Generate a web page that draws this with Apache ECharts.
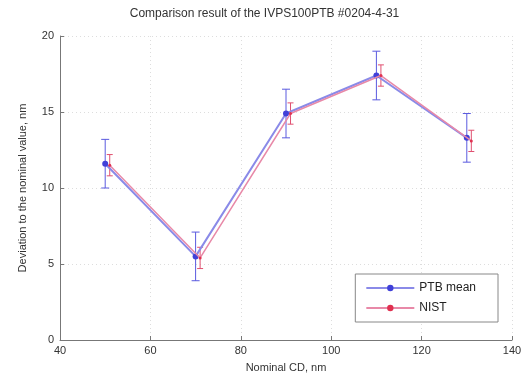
<!DOCTYPE html>
<html><head><meta charset="utf-8">
<script src="https://cdn.jsdelivr.net/npm/echarts@6/dist/echarts.min.js"></script>
<style>html,body{margin:0;padding:0;background:#fff}#c{width:529px;height:381px}</style>
</head><body><div id="c"></div>
<script>
var ptbX = [50, 70, 90, 110, 130];
var ptbY = [11.6, 5.5, 14.9, 17.4, 13.3];
var ptbErr = [1.6, 1.6, 1.6, 1.6, 1.6];
var nistX = [51, 71, 91, 111, 131];
var nistY = [11.5, 5.4, 14.9, 17.4, 13.1];
var nistErr = [0.7, 0.7, 0.7, 0.7, 0.7];
var xTicks = [40, 60, 80, 100, 120, 140];
var yTicks = [0, 5, 10, 15, 20];

function pts(xs, ys){ return xs.map(function(x,i){return [x, ys[i]];}); }
function bars(xs, ys, es){ return xs.map(function(x,i){return [x, ys[i]-es[i], ys[i]+es[i]];}); }
function errRender(color, cap){
  return function(params, api){
    var x = api.value(0);
    var lo = api.coord([x, api.value(1)]);
    var hi = api.coord([x, api.value(2)]);
    var st = {stroke: color, lineWidth: 1};
    return {type:'group', children:[
      {type:'line', shape:{x1:lo[0],y1:lo[1],x2:hi[0],y2:hi[1]}, style:st},
      {type:'line', shape:{x1:lo[0]-cap,y1:lo[1],x2:lo[0]+cap,y2:lo[1]}, style:st},
      {type:'line', shape:{x1:hi[0]-cap,y1:hi[1],x2:hi[0]+cap,y2:hi[1]}, style:st}
    ]};
  };
}
var font = 'Liberation Sans, Arial, sans-serif';
var chart = echarts.init(document.getElementById('c'));
chart.setOption({
  animation:false,
  backgroundColor:'#fff',
  title:{text:'Comparison result of the IVPS100PTB #0204-4-31', left:'center', top:3,
    textStyle:{fontFamily:font, fontSize:12, fontWeight:'normal', color:'#333'}},
  grid:{left:60, right:17, top:36, bottom:41},
  legend:{data:['PTB mean','NIST'], orient:'vertical', right:31, bottom:59,
    backgroundColor:'#fff', borderColor:'#888', borderWidth:1, padding:[8,22,8,10],
    itemWidth:48, itemHeight:8, itemGap:8,
    textStyle:{fontFamily:font, fontSize:12, color:'#222'}},
  xAxis:{type:'value', min:40, max:140, interval:20, name:'Nominal CD, nm',
    nameLocation:'middle', nameGap:22,
    nameTextStyle:{fontFamily:font, fontSize:11, color:'#333'},
    axisLine:{lineStyle:{color:'#777'}},
    axisTick:{inside:true, length:4, lineStyle:{color:'#777'}},
    axisLabel:{fontFamily:font, fontSize:11, color:'#333', margin:5,
      formatter:function(v){return xTicks.indexOf(v)>=0 ? String(v) : '';}},
    splitLine:{show:true, lineStyle:{color:'#ddd', type:[1,3]}}},
  yAxis:{type:'value', min:0, max:20, interval:5, name:'Deviation to the nominal value, nm',
    nameLocation:'middle', nameGap:32,
    nameTextStyle:{fontFamily:font, fontSize:11, color:'#333'},
    axisLine:{show:true, lineStyle:{color:'#777'}},
    axisTick:{show:true, inside:true, length:4, lineStyle:{color:'#777'}},
    axisLabel:{fontFamily:font, fontSize:11, color:'#333', margin:6,
      formatter:function(v){return yTicks.indexOf(v)>=0 ? String(v) : '';}},
    splitLine:{show:true, lineStyle:{color:'#ddd', type:[1,3]}}},
  series:[
    {name:'PTB err', type:'custom', renderItem:errRender('#5a5adf', 4), data:bars(ptbX, ptbY, ptbErr), z:2},
    {name:'NIST err', type:'custom', renderItem:errRender('#e05070', 3), data:bars(nistX, nistY, nistErr), z:3},
    {name:'PTB mean', type:'line', data:pts(ptbX, ptbY), symbol:'circle', symbolSize:6,
      itemStyle:{color:'#4040d8'}, lineStyle:{color:'#8a8ae8', width:2}, z:4},
    {name:'NIST', type:'line', data:pts(nistX, nistY), symbol:'circle', symbolSize:3,
      itemStyle:{color:'#e03050'}, lineStyle:{color:'#e889a8', width:1.5}, z:5}
  ]
});
</script></body></html>
